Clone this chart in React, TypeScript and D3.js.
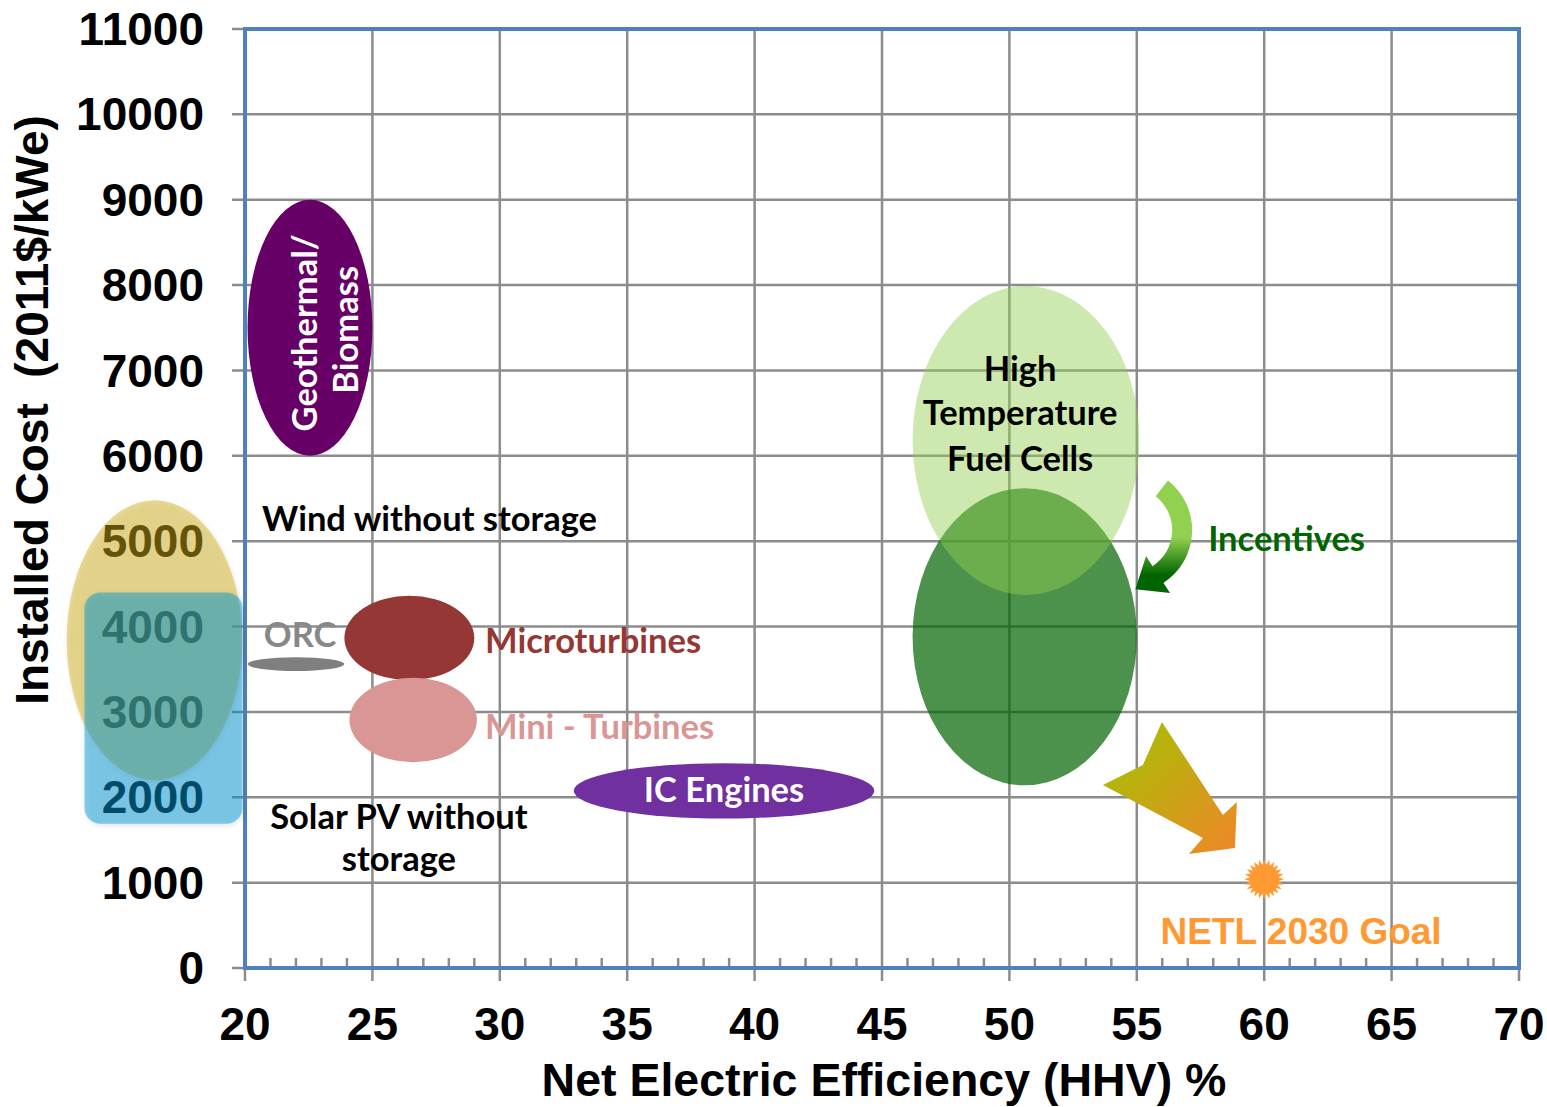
import React from "react";
import * as d3 from "d3";

// ---- chart data -------------------------------------------------------------
const xTicks = [20, 25, 30, 35, 40, 45, 50, 55, 60, 65, 70];
const yTicks = [0, 1000, 2000, 3000, 4000, 5000, 6000, 7000, 8000, 9000, 10000, 11000];

// Technology regions: net electric efficiency range (%) and installed cost range (2011$/kWe)
const techNames = [
  "Geothermal/Biomass",
  "Wind without storage",
  "Solar PV without storage",
  "ORC",
  "Microturbines",
  "Mini - Turbines",
  "IC Engines",
  "High Temperature Fuel Cells",
  "Fuel Cells with Incentives",
];
const effLow = [20.1, 13.0, 13.7, 20.1, 23.9, 24.1, 32.9, 46.2, 46.2];
const effHigh = [25.0, 19.9, 19.9, 23.9, 29.0, 29.1, 44.7, 55.1, 55.0];
const costLow = [6000, 2200, 1690, 3480, 3370, 2410, 1750, 4370, 2140];
const costHigh = [9000, 5480, 4400, 3640, 4360, 3400, 2400, 7990, 5620];

// NETL 2030 goal point
const goalEff = 60;
const goalCost = 1040;

// ---- layout -----------------------------------------------------------------
const W = 1547;
const H = 1107;
const PLOT = { left: 245, right: 1519, top: 29, bottom: 968 };

const x = d3.scaleLinear().domain([20, 70]).range([PLOT.left, PLOT.right]);
const y = d3.scaleLinear().domain([0, 11000]).range([PLOT.bottom, PLOT.top]);

const AXIS_FONT = "'Liberation Sans', Arial, Helvetica, sans-serif";
const LABEL_FONT = "Lato, 'Open Sans', sans-serif";

type Region = {
  name: string;
  cx: number;
  cy: number;
  rx: number;
  ry: number;
  x0: number;
  x1: number;
  y0: number;
  y1: number;
};

const regions: Region[] = techNames.map((name, i) => {
  const x0 = x(effLow[i]);
  const x1 = x(effHigh[i]);
  const y0 = y(costHigh[i]);
  const y1 = y(costLow[i]);
  return {
    name,
    x0,
    x1,
    y0,
    y1,
    cx: (x0 + x1) / 2,
    cy: (y0 + y1) / 2,
    rx: (x1 - x0) / 2,
    ry: (y1 - y0) / 2,
  };
});
const R = (n: string) => regions.find((r) => r.name === n)!;

const regionStyle: Record<string, { fill: string; opacity: number }> = {
  "Geothermal/Biomass": { fill: "#660066", opacity: 1 },
  "Wind without storage": { fill: "#d1ad10", opacity: 0.45 },
  "Solar PV without storage": { fill: "#0096d4", opacity: 0.47 },
  ORC: { fill: "#7f7f7f", opacity: 1 },
  Microturbines: { fill: "#953735", opacity: 1 },
  "Mini - Turbines": { fill: "#d99694", opacity: 1 },
  "IC Engines": { fill: "#7030a0", opacity: 1 },
  "High Temperature Fuel Cells": { fill: "#92d050", opacity: 0.46 },
  "Fuel Cells with Incentives": { fill: "#006400", opacity: 0.7 },
};

// Curved "Incentives" arrow (ring segment ending in an arrowhead)
function curvedArrowPath(cx: number, cy: number) {
  const ri = 43;
  const ro = 63;
  const a0 = (-52 * Math.PI) / 180;
  const a1 = (57 * Math.PI) / 180;
  const p = (r: number, a: number) => [cx + r * Math.cos(a), cy + r * Math.sin(a)];
  const rm = (ri + ro) / 2;
  const [mx, my] = p(rm, a1);
  const tx = -Math.sin(a1);
  const ty = Math.cos(a1);
  const tip = [mx + 27 * tx, my + 27 * ty];
  const ob = p(ro + 12, a1);
  const ib = p(ri - 12, a1);
  const os = p(ro, a0);
  const oe = p(ro, a1);
  const ie = p(ri, a1);
  const is = p(ri, a0);
  return [
    `M${os[0]},${os[1]}`,
    `A${ro},${ro} 0 0 1 ${oe[0]},${oe[1]}`,
    `L${ob[0]},${ob[1]}`,
    `L${tip[0]},${tip[1]}`,
    `L${ib[0]},${ib[1]}`,
    `L${ie[0]},${ie[1]}`,
    `A${ri},${ri} 0 0 0 ${is[0]},${is[1]}`,
    "Z",
  ].join(" ");
}

// Broad arrow pointing toward the goal, outline given relative to its tip
const bigArrowOutline: [number, number][] = [
  [-73, -126],
  [-12, -33],
  [2, -46],
  [0, 0],
  [-46, 6],
  [-32, -10],
  [-132, -63],
  [-92, -83],
];

function starburst(cx: number, cy: number, rOuter: number, rInner: number, n: number) {
  const pts: [number, number][] = [];
  for (let i = 0; i < n * 2; i++) {
    const r = i % 2 === 0 ? rOuter : rInner;
    pts.push([(Math.PI * i) / n, r]);
  }
  const line = d3.lineRadial().curve(d3.curveLinearClosed);
  return { d: line(pts) as string, transform: `translate(${cx},${cy})` };
}

export default function App() {
  const minorTicks = d3.range(20, 70.001, 1).filter((v) => v % 5 !== 0);
  const geo = R("Geothermal/Biomass");
  const wind = R("Wind without storage");
  const solar = R("Solar PV without storage");
  const orc = R("ORC");
  const micro = R("Microturbines");
  const mini = R("Mini - Turbines");
  const ic = R("IC Engines");
  const htfc = R("High Temperature Fuel Cells");
  const inc = R("Fuel Cells with Incentives");

  const arcCx = x(54.7);
  const arcCy = y(5130);
  const tipX = x(58.85);
  const tipY = y(1406);
  const star = starburst(x(goalEff), y(goalCost), 20, 14.5, 24);

  const labelStyle = { fontFamily: LABEL_FONT, fontWeight: 700, fontSize: 34.5 } as const;

  return (
    <svg
      width={W}
      height={H}
      style={{ position: "absolute", left: 0, top: 0, display: "block", background: "#fff" }}
    >
      <defs>
        <filter id="softShadow" x="-20%" y="-20%" width="140%" height="140%">
          <feDropShadow dx="1" dy="2" stdDeviation="2.5" floodColor="#000" floodOpacity="0.22" />
        </filter>
        <linearGradient id="incGrad" gradientUnits="userSpaceOnUse" x1="0" y1={arcCy - 5} x2="0" y2={arcCy + 45}>
          <stop offset="0.25" stopColor="#92d050" />
          <stop offset="1" stopColor="#006400" />
        </linearGradient>
        <linearGradient id="goalGrad" x1="0" y1="0" x2="1" y2="1">
          <stop offset="0" stopColor="#9ec600" />
          <stop offset="1" stopColor="#f08628" />
        </linearGradient>
      </defs>

      {/* grid */}
      <g stroke="#8c8c8c" strokeWidth={2.5}>
        {xTicks.map((t) => (
          <line key={"gx" + t} x1={x(t)} x2={x(t)} y1={PLOT.top} y2={PLOT.bottom + 13} />
        ))}
        {yTicks.map((t) => (
          <line key={"gy" + t} x1={PLOT.left - 13} x2={PLOT.right} y1={y(t)} y2={y(t)} />
        ))}
        {minorTicks.map((t) => (
          <line key={"mx" + t} x1={x(t)} x2={x(t)} y1={PLOT.bottom - 10} y2={PLOT.bottom} />
        ))}
      </g>

      {/* tick labels */}
      <g fontFamily={AXIS_FONT} fontWeight={700} fontSize={46} fill="#000">
        {yTicks.map((t) => (
          <text key={"ly" + t} x={204} y={y(t)} dy="0.35em" textAnchor="end">
            {t}
          </text>
        ))}
        {xTicks.map((t) => (
          <text key={"lx" + t} x={x(t)} y={1040} textAnchor="middle">
            {t}
          </text>
        ))}
      </g>

      {/* axis titles */}
      <text
        x={884}
        y={1096}
        textAnchor="middle"
        fontFamily={AXIS_FONT}
        fontWeight={700}
        fontSize={46.5}
      >
        Net Electric Efficiency (HHV) %
      </text>
      <text
        transform={`translate(48,410) rotate(-90)`}
        textAnchor="middle"
        fontFamily={AXIS_FONT}
        fontWeight={700}
        fontSize={46}
        style={{ whiteSpace: "pre" }}
      >
        {"Installed Cost  (2011$/kWe)"}
      </text>

      {/* frame */}
      <rect
        x={PLOT.left}
        y={PLOT.top}
        width={PLOT.right - PLOT.left}
        height={PLOT.bottom - PLOT.top}
        fill="none"
        stroke="#4f81bd"
        strokeWidth={4}
      />

      {/* technology regions */}
      {[geo, orc, micro, mini, ic, inc, htfc].map((r) => (
        <ellipse
          key={r.name}
          cx={r.cx}
          cy={r.cy}
          rx={r.rx}
          ry={r.ry}
          fill={regionStyle[r.name].fill}
          fillOpacity={regionStyle[r.name].opacity}
        />
      ))}
      <ellipse
        cx={wind.cx}
        cy={wind.cy}
        rx={wind.rx}
        ry={wind.ry}
        fill={regionStyle[wind.name].fill}
        fillOpacity={regionStyle[wind.name].opacity}
        filter="url(#softShadow)"
      />
      <rect
        x={solar.x0}
        y={solar.y0}
        width={solar.x1 - solar.x0}
        height={solar.y1 - solar.y0}
        rx={16}
        ry={16}
        fill={regionStyle[solar.name].fill}
        fillOpacity={regionStyle[solar.name].opacity}
        filter="url(#softShadow)"
      />

      {/* region labels */}
      <g {...labelStyle}>
        <g fill="#fff" transform={`translate(${geo.cx},${geo.cy})`}>
          <text transform="translate(7,5) rotate(-90)" textAnchor="middle">
            Geothermal/
          </text>
          <text transform="translate(48,2) rotate(-90)" textAnchor="middle">
            Biomass
          </text>
        </g>
        <text x={x(20.67)} y={y(5120)} fill="#000">
          Wind without storage
        </text>
        <text x={x(26.04)} y={y(1628)} textAnchor="middle" fill="#000">
          Solar PV without
        </text>
        <text x={x(26.04)} y={y(1136)} textAnchor="middle" fill="#000">
          storage
        </text>
        <text x={x(22.16)} y={y(3760)} textAnchor="middle" fill="#888888">
          ORC
        </text>
        <text x={x(29.42)} y={y(3690)} fill="#953735">
          Microturbines
        </text>
        <text x={x(29.42)} y={y(2683)} fill="#d99694">
          Mini - Turbines
        </text>
        <text x={ic.cx} y={ic.cy + 11} textAnchor="middle" fill="#fff">
          IC Engines
        </text>
        <g fill="#000" textAnchor="middle">
          <text x={x(50.42)} y={381}>
            High
          </text>
          <text x={x(50.42)} y={425}>
            Temperature
          </text>
          <text x={x(50.42)} y={471}>
            Fuel Cells
          </text>
        </g>
        <text x={x(57.8)} y={y(4885)} fill="#006400">
          Incentives
        </text>
      </g>

      {/* arrows and goal */}
      <path d={curvedArrowPath(arcCx, arcCy)} fill="url(#incGrad)" />
      <polygon
        points={bigArrowOutline.map(([dx, dy]) => `${tipX + dx},${tipY + dy}`).join(" ")}
        fill="url(#goalGrad)"
      />
      <path d={star.d} transform={star.transform} fill="#ff9933" />
      <text
        x={x(61.45)}
        y={y(281)}
        textAnchor="middle"
        fontFamily={AXIS_FONT}
        fontWeight={700}
        fontSize={37}
        fill="#ff9933"
      >
        NETL 2030 Goal
      </text>
    </svg>
  );
}
